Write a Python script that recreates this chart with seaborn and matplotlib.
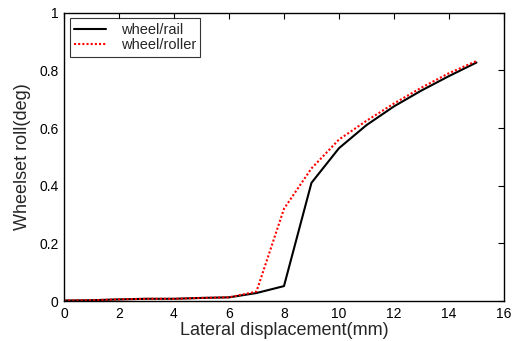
import numpy as np
import pandas as pd
import matplotlib
matplotlib.use("Agg")
import matplotlib.pyplot as plt
import seaborn as sns

# =========================
# Data
# =========================

displacement = [0, 1, 2, 3, 4, 5, 6, 7, 8, 9, 10, 11, 12, 13, 14, 15]
roll_rail = [0.002, 0.003, 0.006, 0.008, 0.008, 0.011, 0.013, 0.028, 0.052, 0.41,
             0.53, 0.61, 0.675, 0.73, 0.78, 0.827]
roll_roller = [0.002, 0.003, 0.006, 0.008, 0.008, 0.011, 0.013, 0.033, 0.32, 0.46,
               0.56, 0.625, 0.685, 0.74, 0.79, 0.832]

df = pd.DataFrame({
    "x": displacement * 2,
    "y": roll_rail + roll_roller,
    "case": ["wheel/rail"] * len(displacement) + ["wheel/roller"] * len(displacement),
})

# =========================
# Plot
# =========================

sns.set_style("white")
plt.rcParams["font.family"] = ["Liberation Sans", "DejaVu Sans"]

fig = plt.figure(figsize=(5.21, 3.41), dpi=100)
ax = fig.add_axes([0.1228, 0.117, 0.8445, 0.846])

sns.lineplot(data=df, x="x", y="y", hue="case", style="case",
             palette={"wheel/rail": "black", "wheel/roller": "red"},
             dashes={"wheel/rail": "", "wheel/roller": (1, 1)},
             linewidth=1.5, ax=ax)

ax.set_xlim(0, 16)
ax.set_ylim(0, 1)
ax.set_xticks(range(0, 17, 2))
ax.set_yticks([0, 0.2, 0.4, 0.6, 0.8, 1])
ax.set_yticklabels(["0", "0.2", "0.4", "0.6", "0.8", "1"])

for s in ax.spines.values():
    s.set_color("black")
    s.set_linewidth(1.0)
ax.tick_params(direction="in", length=4, width=0.8, top=True, right=True,
               labelsize=10, colors="black", pad=4)

ax.set_xlabel("Lateral displacement(mm)", fontsize=13, labelpad=1)
ax.set_ylabel("Wheelset roll(deg)", fontsize=13, labelpad=6)

leg = ax.legend(loc="upper left", fontsize=10.5, frameon=True, fancybox=False,
                edgecolor="black", handlelength=2.2, handletextpad=1.0,
                borderpad=0.3, labelspacing=0.1, borderaxespad=0.4)
leg.get_frame().set_linewidth(0.8)

fig.savefig("out.png", dpi=100)
